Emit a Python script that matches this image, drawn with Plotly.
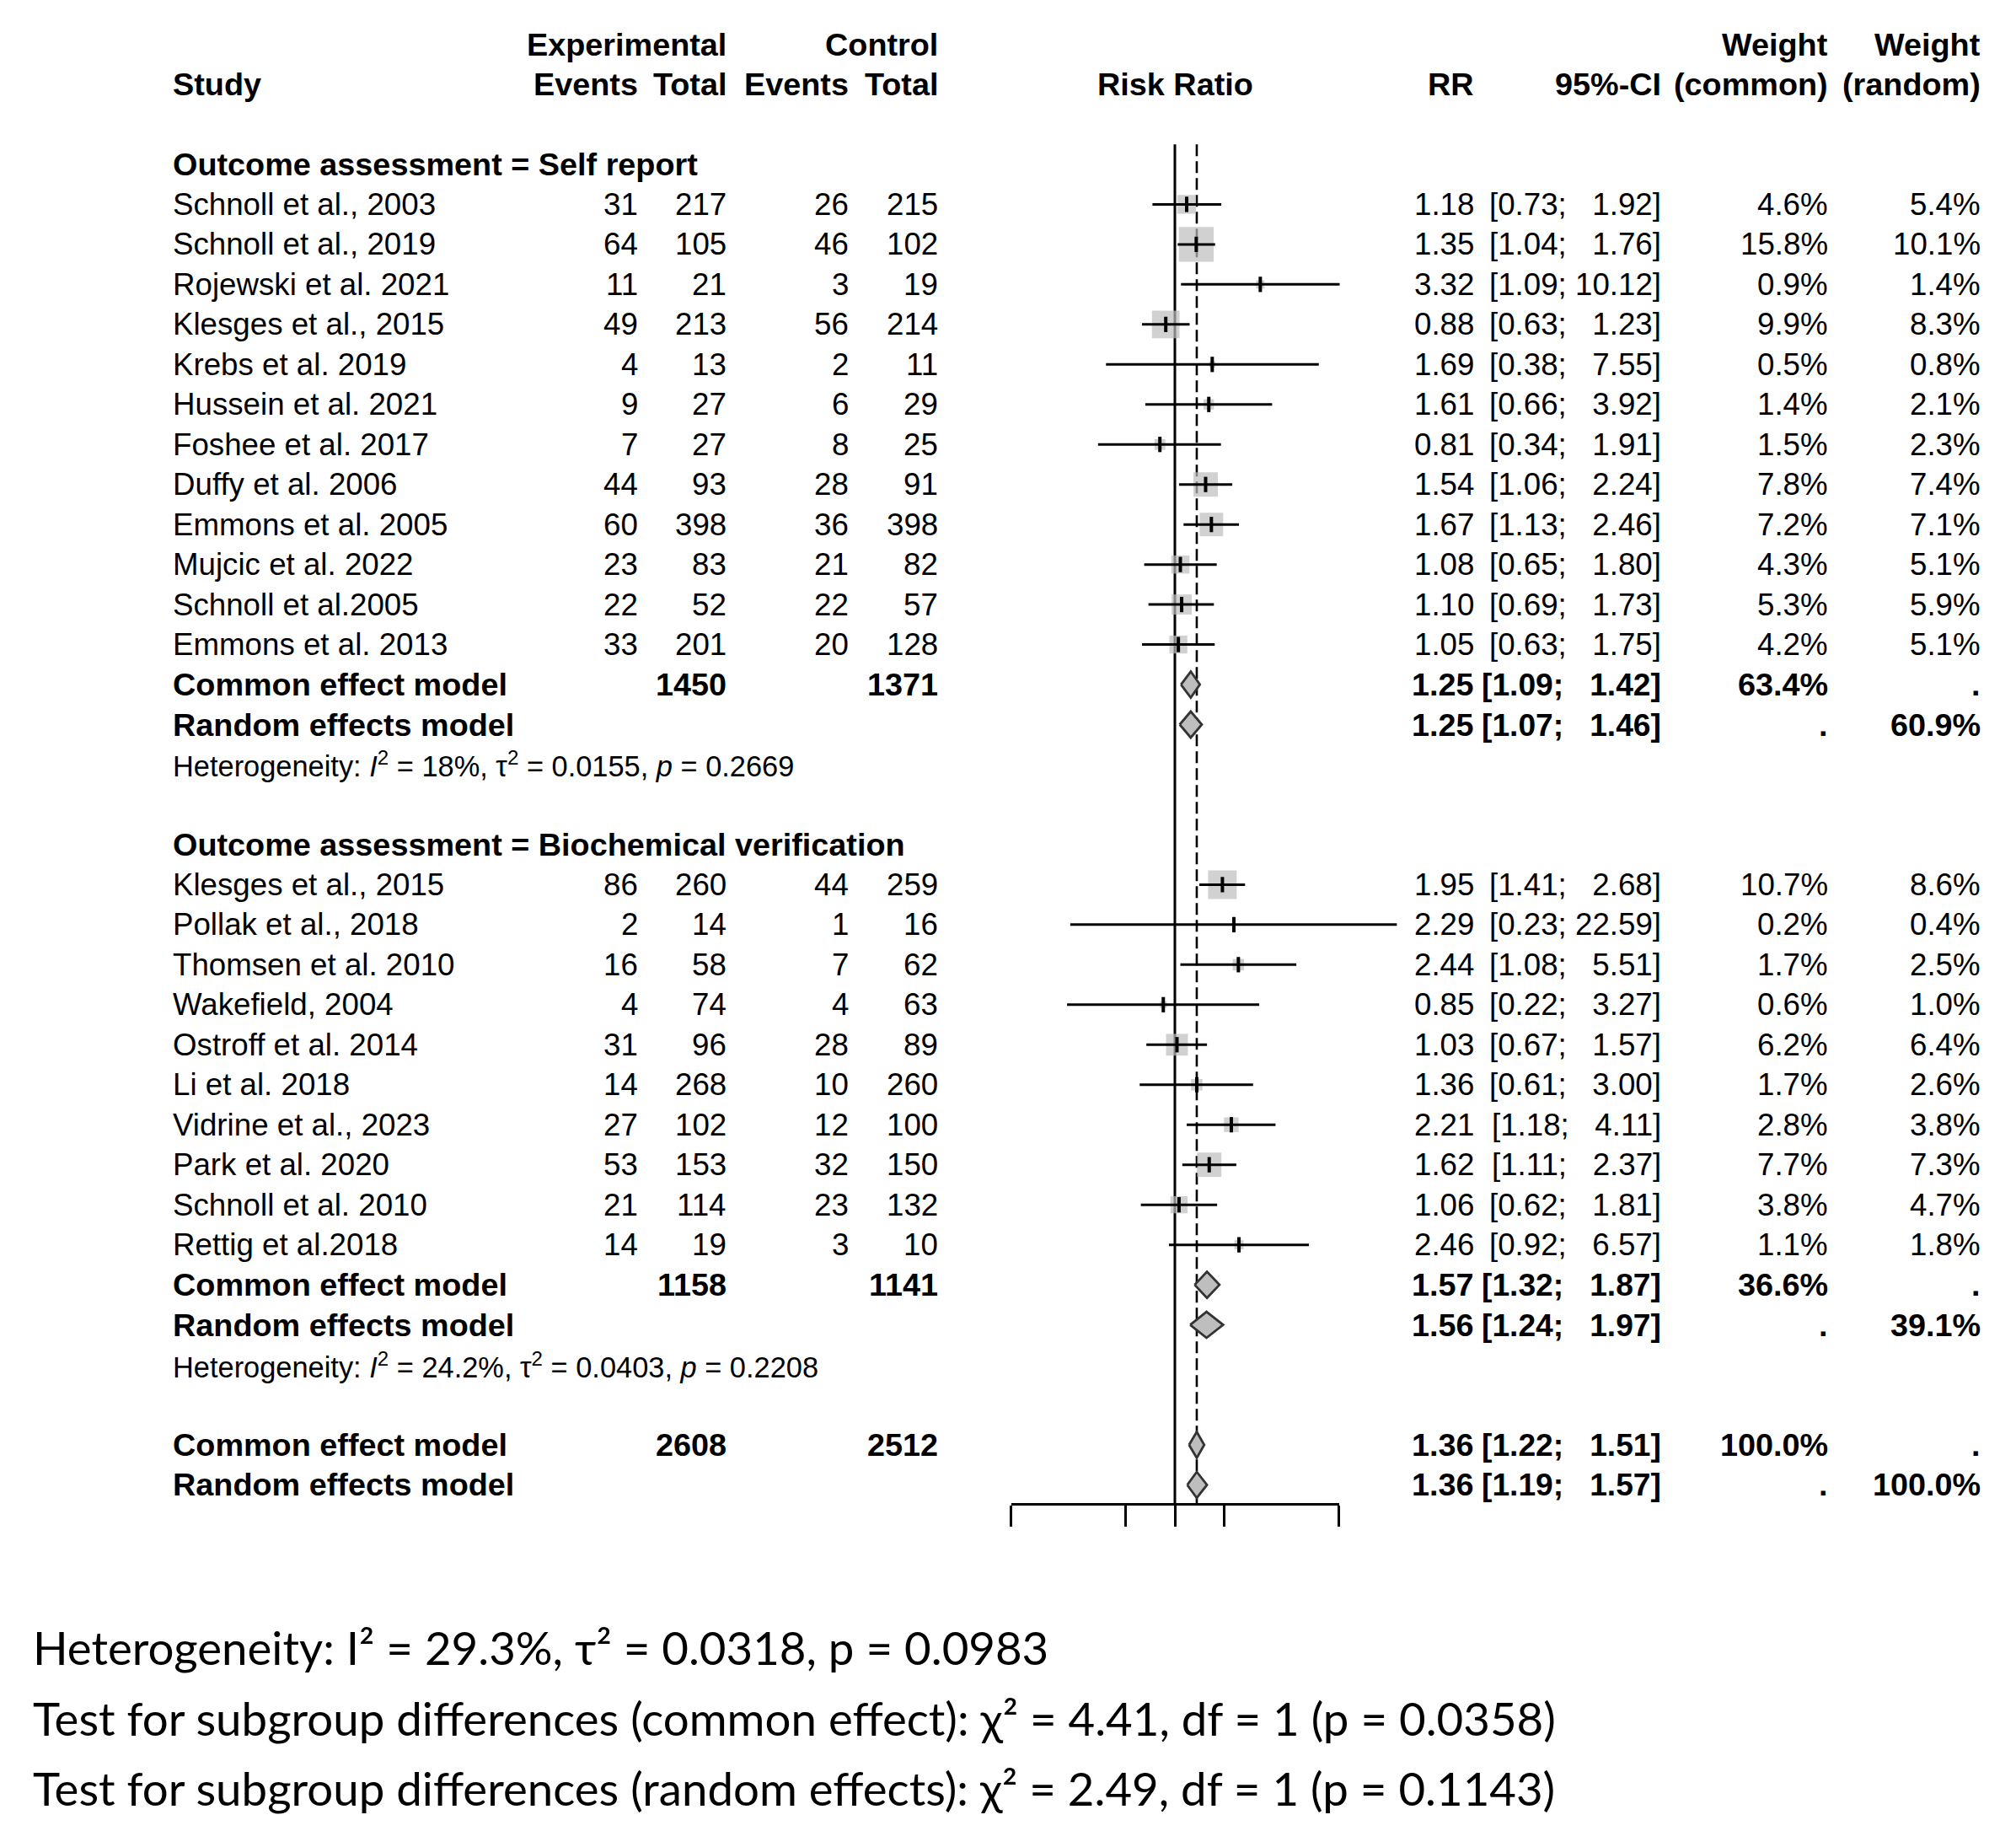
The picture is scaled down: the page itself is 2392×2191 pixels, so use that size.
import math
import plotly.graph_objects as go

W, H = 2392, 2191

# ---------------- data ----------------
group_titles = ["Outcome assessment = Self report",
                "Outcome assessment = Biochemical verification"]

g1_study = ["Schnoll et al., 2003", "Schnoll et al., 2019", "Rojewski et al. 2021",
            "Klesges et al., 2015", "Krebs et al. 2019", "Hussein et al. 2021",
            "Foshee et al. 2017", "Duffy et al. 2006", "Emmons et al. 2005",
            "Mujcic et al. 2022", "Schnoll et al.2005", "Emmons et al. 2013"]
g1_ev_exp = [31, 64, 11, 49, 4, 9, 7, 44, 60, 23, 22, 33]
g1_n_exp = [217, 105, 21, 213, 13, 27, 27, 93, 398, 83, 52, 201]
g1_ev_ctl = [26, 46, 3, 56, 2, 6, 8, 28, 36, 21, 22, 20]
g1_n_ctl = [215, 102, 19, 214, 11, 29, 25, 91, 398, 82, 57, 128]
g1_rr = [1.18, 1.35, 3.32, 0.88, 1.69, 1.61, 0.81, 1.54, 1.67, 1.08, 1.10, 1.05]
g1_lo = [0.73, 1.04, 1.09, 0.63, 0.38, 0.66, 0.34, 1.06, 1.13, 0.65, 0.69, 0.63]
g1_hi = [1.92, 1.76, 10.12, 1.23, 7.55, 3.92, 1.91, 2.24, 2.46, 1.80, 1.73, 1.75]
g1_w_common = [4.6, 15.8, 0.9, 9.9, 0.5, 1.4, 1.5, 7.8, 7.2, 4.3, 5.3, 4.2]
g1_w_random = [5.4, 10.1, 1.4, 8.3, 0.8, 2.1, 2.3, 7.4, 7.1, 5.1, 5.9, 5.1]

g2_study = ["Klesges et al., 2015", "Pollak et al., 2018", "Thomsen et al. 2010",
            "Wakefield, 2004", "Ostroff et al. 2014", "Li et al. 2018",
            "Vidrine et al., 2023", "Park et al. 2020", "Schnoll et al. 2010",
            "Rettig et al.2018"]
g2_ev_exp = [86, 2, 16, 4, 31, 14, 27, 53, 21, 14]
g2_n_exp = [260, 14, 58, 74, 96, 268, 102, 153, 114, 19]
g2_ev_ctl = [44, 1, 7, 4, 28, 10, 12, 32, 23, 3]
g2_n_ctl = [259, 16, 62, 63, 89, 260, 100, 150, 132, 10]
g2_rr = [1.95, 2.29, 2.44, 0.85, 1.03, 1.36, 2.21, 1.62, 1.06, 2.46]
g2_lo = [1.41, 0.23, 1.08, 0.22, 0.67, 0.61, 1.18, 1.11, 0.62, 0.92]
g2_hi = [2.68, 22.59, 5.51, 3.27, 1.57, 3.00, 4.11, 2.37, 1.81, 6.57]
g2_w_common = [10.7, 0.2, 1.7, 0.6, 6.2, 1.7, 2.8, 7.7, 3.8, 1.1]
g2_w_random = [8.6, 0.4, 2.5, 1.0, 6.4, 2.6, 3.8, 7.3, 4.7, 1.8]

# pooled results: [group1, group2, overall]
pool_n_exp = [1450, 1158, 2608]
pool_n_ctl = [1371, 1141, 2512]
common_rr = [1.25, 1.57, 1.36]
common_lo = [1.09, 1.32, 1.22]
common_hi = [1.42, 1.87, 1.51]
common_w = [63.4, 36.6, 100.0]
random_rr = [1.25, 1.56, 1.36]
random_lo = [1.07, 1.24, 1.19]
random_hi = [1.46, 1.97, 1.57]
random_w = [60.9, 39.1, 100.0]

het_i2 = ["18%", "24.2%"]
het_tau2 = ["0.0155", "0.0403"]
het_p = ["0.2669", "0.2208"]

tick_values = [0.1, 0.5, 1, 2, 10]
null_value = 1

footer_lines = [
    "Heterogeneity: I\u00b2 = 29.3%, \u03c4\u00b2 = 0.0318, p = 0.0983",
    "Test for subgroup differences (common effect): \u03c7\u00b2 = 4.41, df = 1 (p = 0.0358)",
    "Test for subgroup differences (random effects): \u03c7\u00b2 = 2.49, df = 1 (p = 0.1143)",
]

# ---------------- layout constants ----------------
ROW0_PX = 92.0
ROW_PX = 47.47
X_ONE_PX = 1386.0
PX_PER_DEC = 194.5
AXIS_PX = 1775
FONT = "Liberation Sans, Arial, sans-serif"
FS = 36.7
FS_BOLD = 37.8
FS_HET = 34.4
NB = "\u00a0"

COL_STUDY = 195
COL_EV_E = 751
COL_N_E = 856
COL_EV_C = 1001
COL_N_C = 1107
COL_RR = 1743
COL_CI = 1965
COL_WC = 2163
COL_WR = 2344

SQ_COLOR = "#BEBEBE"
DIA_FILL = "#BEBEBE"
DIA_LINE = "#333333"

# ---------------- row assignment ----------------
g1_rows = [3 + i for i in range(len(g1_study))]
g1_common_row = g1_rows[-1] + 1
g1_random_row = g1_common_row + 1
g1_het_row = g1_random_row + 1
g2_title_row = g1_het_row + 2
g2_rows = [g2_title_row + 1 + i for i in range(len(g2_study))]
g2_common_row = g2_rows[-1] + 1
g2_random_row = g2_common_row + 1
g2_het_row = g2_random_row + 1
ov_common_row = g2_het_row + 2
ov_random_row = ov_common_row + 1

common_rows = [g1_common_row, g2_common_row, ov_common_row]
random_rows = [g1_random_row, g2_random_row, ov_random_row]

axis_row = (AXIS_PX - ROW0_PX) / ROW_PX
ref_top_row = 1.5

fig = go.Figure()

# reference lines
fig.add_trace(go.Scatter(x=[null_value, null_value], y=[ref_top_row, axis_row], mode="lines",
                         line=dict(color="black", width=3), hoverinfo="skip"))
fig.add_trace(go.Scatter(x=[common_rr[2], common_rr[2]], y=[ref_top_row, axis_row], mode="lines",
                         line=dict(color="black", width=2.6, dash="14px,6px"), hoverinfo="skip"))

all_rr = g1_rr + g2_rr
all_lo = g1_lo + g2_lo
all_hi = g1_hi + g2_hi
all_w = g1_w_common + g2_w_common
all_rows = g1_rows + g2_rows

# squares
fig.add_trace(go.Scatter(x=all_rr, y=all_rows, mode="markers",
                         marker=dict(symbol="square", color=SQ_COLOR,
                                     size=[10.4 * math.sqrt(w) for w in all_w],
                                     line=dict(width=0)),
                         hoverinfo="skip"))
# CI lines
cx, cy = [], []
for lo, hi, r in zip(all_lo, all_hi, all_rows):
    cx += [lo, hi, None]
    cy += [r, r, None]
fig.add_trace(go.Scatter(x=cx, y=cy, mode="lines", line=dict(color="black", width=3),
                         hoverinfo="skip"))
# estimate ticks
fig.add_trace(go.Scatter(x=all_rr, y=all_rows, mode="markers",
                         marker=dict(symbol="line-ns", size=13,
                                     line=dict(color="black", width=4)),
                         hoverinfo="skip"))

# diamonds
DH = 15.5 / ROW_PX
for est, lo, hi, r in zip(common_rr + random_rr, common_lo + random_lo,
                          common_hi + random_hi, common_rows + random_rows):
    fig.add_trace(go.Scatter(x=[lo, est, hi, est, lo], y=[r, r - DH, r, r + DH, r],
                             mode="lines", fill="toself", fillcolor=DIA_FILL,
                             line=dict(color=DIA_LINE, width=2.8), hoverinfo="skip"))

# bottom axis (separate subplot limited to tick range)
fig.add_trace(go.Scatter(x=tick_values, y=[0.5] * len(tick_values), xaxis="x2", yaxis="y2",
                         mode="markers", marker=dict(opacity=0), hoverinfo="skip"))

# ---------------- text ----------------
ann = []


def txt(xp, r, s, anchor="right", bold=False, size=None, yref="y"):
    if size is None:
        size = FS_BOLD if bold else FS
    ann.append(dict(x=xp / W, y=r, xref="paper", yref=yref,
                    text=f"<b>{s}</b>" if bold else s,
                    xanchor=anchor, yanchor="middle", showarrow=False,
                    font=dict(family=FONT, size=size, color="black")))


def ci_str(lo, hi):
    h = f"{hi:.2f}"
    h = NB * (5 - len(h)) * 2 + h if len(h) < 5 else h
    return f"[{lo:.2f};{NB}{h}]"


# headers
txt(COL_N_E, -1, "Experimental", bold=True)
txt(COL_N_C, -1, "Control", bold=True)
txt(COL_WC, -1, "Weight", bold=True)
txt(COL_WR, -1, "Weight", bold=True)
txt(COL_STUDY, 0, "Study", anchor="left", bold=True)
txt(COL_EV_E, 0, "Events", bold=True)
txt(COL_N_E, 0, "Total", bold=True)
txt(COL_EV_C, 0, "Events", bold=True)
txt(COL_N_C, 0, "Total", bold=True)
txt(X_ONE_PX, 0, "Risk Ratio", anchor="center", bold=True)
txt(COL_RR, 0, "RR", bold=True)
txt(COL_CI, 0, "95%-CI", bold=True)
txt(COL_WC, 0, "(common)", bold=True)
txt(COL_WR, 0, "(random)", bold=True)

txt(COL_STUDY, g1_rows[0] - 1, group_titles[0], anchor="left", bold=True)
txt(COL_STUDY, g2_title_row, group_titles[1], anchor="left", bold=True)

groups = [
    (g1_study, g1_ev_exp, g1_n_exp, g1_ev_ctl, g1_n_ctl, g1_rr, g1_lo, g1_hi,
     g1_w_common, g1_w_random, g1_rows),
    (g2_study, g2_ev_exp, g2_n_exp, g2_ev_ctl, g2_n_ctl, g2_rr, g2_lo, g2_hi,
     g2_w_common, g2_w_random, g2_rows),
]
for (st, ee, ne, ec, nc, rr, lo, hi, wc, wr, rows) in groups:
    for i, r in enumerate(rows):
        txt(COL_STUDY, r, st[i], anchor="left")
        txt(COL_EV_E, r, str(ee[i]))
        txt(COL_N_E, r, str(ne[i]))
        txt(COL_EV_C, r, str(ec[i]))
        txt(COL_N_C, r, str(nc[i]))
        txt(COL_RR, r, f"{rr[i]:.2f}")
        txt(COL_CI, r, ci_str(lo[i], hi[i]))
        txt(COL_WC, r, f"{wc[i]:.1f}%")
        txt(COL_WR, r, f"{wr[i]:.1f}%")

for k in range(3):
    rc, rrw = common_rows[k], random_rows[k]
    txt(COL_STUDY, rc, "Common effect model", anchor="left", bold=True)
    txt(COL_N_E, rc, str(pool_n_exp[k]), bold=True)
    txt(COL_N_C, rc, str(pool_n_ctl[k]), bold=True)
    txt(COL_RR, rc, f"{common_rr[k]:.2f}", bold=True)
    txt(COL_CI, rc, ci_str(common_lo[k], common_hi[k]), bold=True, size=FS_BOLD - 0.6)
    txt(COL_WC, rc, f"{common_w[k]:.1f}%", bold=True)
    txt(COL_WR, rc, ".", bold=True)
    txt(COL_STUDY, rrw, "Random effects model", anchor="left", bold=True)
    txt(COL_RR, rrw, f"{random_rr[k]:.2f}", bold=True)
    txt(COL_CI, rrw, ci_str(random_lo[k], random_hi[k]), bold=True, size=FS_BOLD - 0.6)
    txt(COL_WC, rrw, ".", bold=True)
    txt(COL_WR, rrw, f"{random_w[k]:.1f}%", bold=True)

for k, hr in enumerate([g1_het_row, g2_het_row]):
    s = (f"Heterogeneity: <i>I</i><sup>2</sup> = {het_i2[k]}, \u03c4<sup>2</sup> = {het_tau2[k]}, "
         f"<i>p</i> = {het_p[k]}")
    txt(COL_STUDY, hr, s, anchor="left", size=FS_HET)

FOOT_FONT = "Lato, Carlito, sans-serif"
for line, py in zip(footer_lines, [1946, 2030, 2113]):
    ann.append(dict(x=29 / W, y=1 - py / H, xref="paper", yref="paper", text=line,
                    xanchor="left", yanchor="middle", showarrow=False,
                    font=dict(family=FOOT_FONT, size=54.6, color="black")))

y_axis_paper = 1 - AXIS_PX / H

fig.update_layout(
    width=W, height=H, margin=dict(l=0, r=0, t=0, b=0),
    paper_bgcolor="white", plot_bgcolor="rgba(0,0,0,0)",
    showlegend=False, hovermode=False,
    xaxis=dict(type="log", domain=[0, 1],
               range=[-X_ONE_PX / PX_PER_DEC, (W - X_ONE_PX) / PX_PER_DEC],
               visible=False),
    yaxis=dict(range=[(H - ROW0_PX) / ROW_PX, -ROW0_PX / ROW_PX], domain=[0, 1],
               visible=False),
    xaxis2=dict(type="log", domain=[(X_ONE_PX - PX_PER_DEC) / W, (X_ONE_PX + PX_PER_DEC) / W],
                range=[-1, 1], anchor="y2", showline=True, linecolor="black", linewidth=3,
                ticks="outside", ticklen=25, tickwidth=3, tickcolor="black",
                tickvals=tick_values, showticklabels=False, showgrid=False, zeroline=False),
    yaxis2=dict(domain=[y_axis_paper, y_axis_paper + 0.01], range=[0, 1], visible=False),
    annotations=ann,
)

fig.write_html("out.html")
